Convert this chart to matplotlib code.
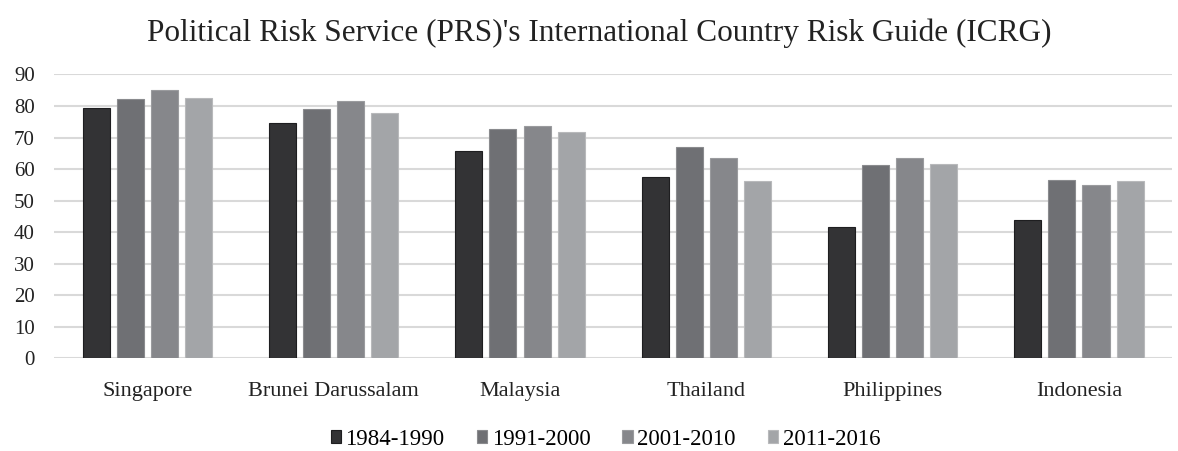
import numpy as np
import matplotlib.pyplot as plt

countries = ["Singapore", "Brunei Darussalam", "Malaysia", "Thailand", "Philippines", "Indonesia"]
periods = ["1984-1990", "1991-2000", "2001-2010", "2011-2016"]

p1984 = [79.2, 74.7, 65.8, 57.6, 41.5, 43.8]
p1991 = [82.3, 79.0, 72.7, 66.9, 61.4, 56.5]
p2001 = [85.1, 81.7, 73.5, 63.6, 63.5, 54.9]
p2011 = [82.5, 77.8, 71.7, 56.1, 61.6, 56.1]

colors = ["#333335", "#6f7074", "#86878b", "#a3a5a8"]
edges = ["#1e1e20", "#8a8b8e", "#9a9b9e", "#b8b9bb"]

plt.rcParams['font.family'] = ['Liberation Serif', 'DejaVu Serif']

fig = plt.figure(figsize=(11.78, 4.51), dpi=100)
ax = fig.add_axes([0.046, 0.2055, 0.949, 0.6295])

x = np.arange(len(countries))
w = 0.145
step = 0.183
for i, vals in enumerate([p1984, p1991, p2001, p2011]):
    ax.bar(x + (i - 1.5) * step, vals, width=w, color=colors[i], edgecolor=edges[i],
           linewidth=0.8, label=periods[i], zorder=3)

ax.set_xlim(-0.5, len(countries) - 0.5)
ax.set_ylim(0, 90)
ax.set_yticks(range(0, 91, 10))
ax.set_xticks(x)
ax.set_xticklabels(countries, fontsize=16, color="#222222")
ax.tick_params(axis='y', labelsize=15, colors="#222222", length=0, pad=14)
ax.tick_params(axis='x', length=0, pad=17)
ax.grid(axis='y', color="#d9d9d9", linewidth=1.5, zorder=0)
for s in ax.spines.values():
    s.set_visible(False)

fig.suptitle("Political Risk Service (PRS)'s International Country Risk Guide (ICRG)",
             fontsize=22.5, x=0.5085, y=0.96, color="#222222")

fig.legend(loc='lower center', ncol=4, bbox_to_anchor=(0.514, -0.043), frameon=False,
           fontsize=16.5, handlelength=0.45, handleheight=0.45, handletextpad=0.2,
           columnspacing=1.4)

fig.savefig("out.png", dpi=100)
